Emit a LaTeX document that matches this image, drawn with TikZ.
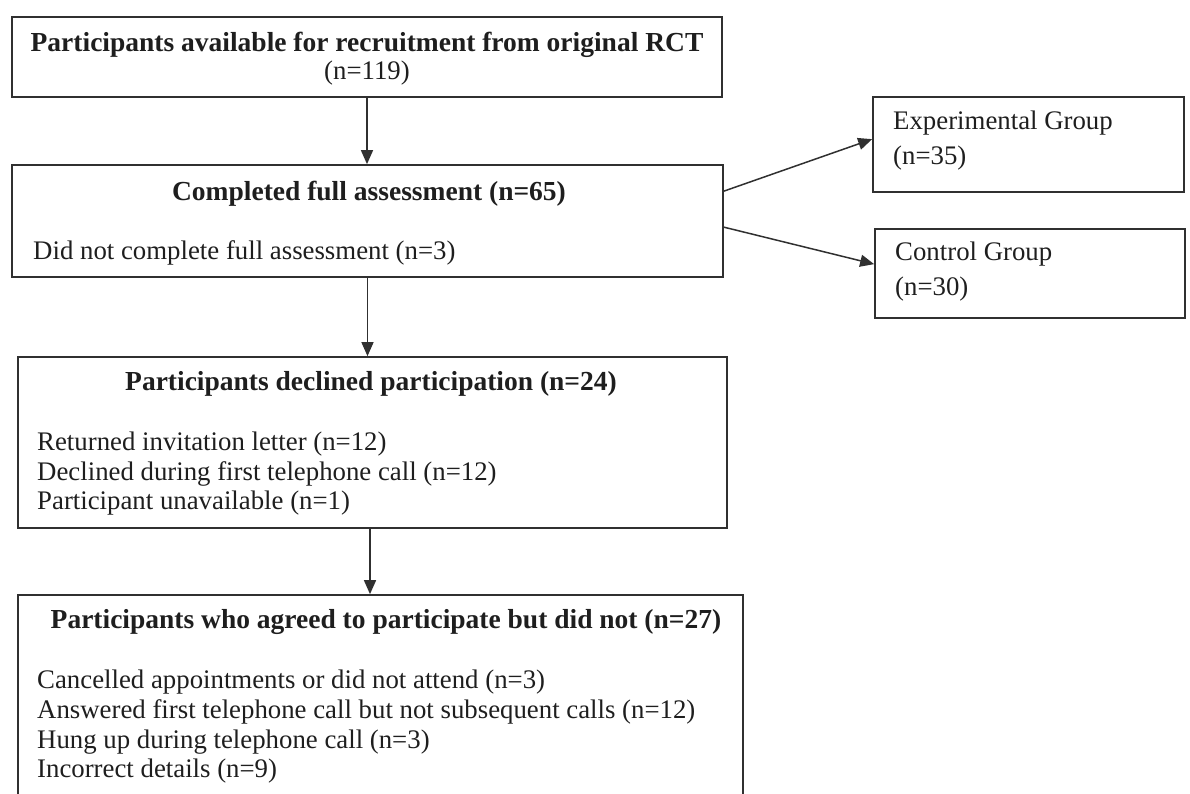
\documentclass[tikz,border=0pt]{standalone}
\usepackage{fontspec}
\setmainfont{Liberation Serif}
\usetikzlibrary{arrows.meta}

\definecolor{ink}{HTML}{1E1E1E}
\definecolor{rule}{HTML}{303030}

\tikzset{
  box/.style={draw=rule, line width=1.7pt, rectangle, inner sep=0pt, fill=none},
  arr/.style={draw=rule, line width=1.5pt, -{Triangle[length=14pt,width=12pt]}},
  txt/.style={inner sep=0pt, text=ink, font=\fontsize{26.8}{30}\selectfont},
  head/.style={inner sep=0pt, text=ink, font=\fontsize{27.5}{30}\selectfont\bfseries},
}

\begin{document}
\begin{tikzpicture}[x=1pt, y=-1pt]
  \useasboundingbox (0,0) rectangle (1190,794);
  \clip (0,0) rectangle (1190,794);

  % boxes (position, size)
  \node[box, minimum width=710pt, minimum height=80pt]  (b1) at (367,57)    {};
  \node[box, minimum width=711pt, minimum height=112pt] (b2) at (367.5,221) {};
  \node[box, minimum width=709pt, minimum height=171pt] (b3) at (372.5,442.5) {};
  \node[box, minimum width=725pt, minimum height=250pt] (b4) at (380.5,720) {};
  \node[box, minimum width=311pt, minimum height=95pt]  (bE) at (1028.5,144.5) {};
  \node[box, minimum width=310pt, minimum height=89pt]  (bC) at (1030,273.5) {};

  % box 1
  \node[head, anchor=base] (t1a) at (367,52) {Participants available for recruitment from original RCT};
  \node[txt,  anchor=base] (t1b) at (367,80) {(n=119)};

  % box 2
  \node[head, anchor=base] (t2a) at (369,201) {Completed full assessment (n=65)};
  \node[txt,  anchor=base west] (t2b) at (33,259) {Did not complete full assessment (n=3)};

  % box 3
  \node[head, anchor=base] (t3a) at (371,390) {Participants declined participation (n=24)};
  \node[txt, anchor=base west] (t3b) at (37,450) {Returned invitation letter (n=12)};
  \node[txt, anchor=base west] (t3c) at (37,480) {Declined during first telephone call (n=12)};
  \node[txt, anchor=base west] (t3d) at (37,509) {Participant unavailable (n=1)};

  % box 4
  \node[head, anchor=base] (t4a) at (386,628) {Participants who agreed to participate but did not (n=27)};
  \node[txt, anchor=base west] (t4b) at (37,688) {Cancelled appointments or did not attend (n=3)};
  \node[txt, anchor=base west] (t4c) at (37,718) {Answered first telephone call but not subsequent calls (n=12)};
  \node[txt, anchor=base west] (t4d) at (37,748) {Hung up during telephone call (n=3)};
  \node[txt, anchor=base west] (t4e) at (37,777) {Incorrect details (n=9)};

  % group boxes
  \node[txt, anchor=base west] (tEa) at (893,130) {Experimental Group};
  \node[txt, anchor=base west] (tEb) at (893,165) {(n=35)};
  \node[txt, anchor=base west] (tCa) at (895,260) {Control Group};
  \node[txt, anchor=base west] (tCb) at (895,295) {(n=30)};

  % connectors
  \draw[arr] (b1.south) -- (b1.south |- b2.north);
  \draw[arr] (b2.south) -- (b2.south |- b3.north);
  \draw[arr] ([xshift=-2.5pt]b3.south) -- ([xshift=-2.5pt]b3.south |- b4.north);
  \draw[arr] ([yshift=-27pt]b2.north east) -- ([yshift=-43pt]bE.north west);
  \draw[arr] ([yshift=-63pt]b2.north east) -- ([yshift=-36pt]bC.north west);
\end{tikzpicture}
\end{document}
